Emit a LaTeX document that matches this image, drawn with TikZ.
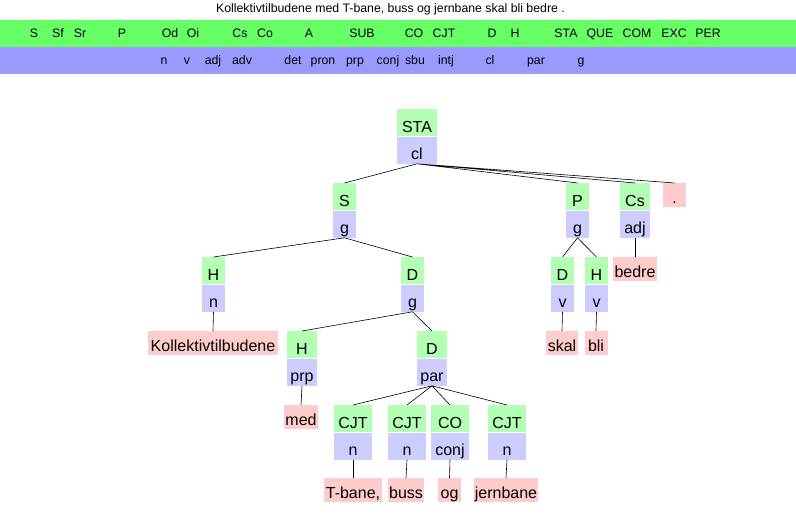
\documentclass[tikz,border=0pt]{standalone}
\usepackage{fontspec}
\setmainfont{Liberation Sans}
\usetikzlibrary{positioning}
\definecolor{bandgreen}{HTML}{66FF66}
\definecolor{bandblue}{HTML}{9999FF}
\definecolor{fngreen}{HTML}{B3FFB3}
\definecolor{catblue}{HTML}{CCCCFF}
\definecolor{wordred}{HTML}{FFCCCC}

\begin{document}
\begin{tikzpicture}[x=1pt, y=-1pt,
	fn/.style={fill=fngreen, anchor=north, minimum height=27pt, minimum width=23pt, inner xsep=1pt, inner ysep=0pt,
		text height=19pt, text depth=0pt, font=\fontsize{16}{18}\selectfont},
	cat/.style={fn, fill=catblue},
	word/.style={fill=wordred, anchor=north, minimum height=24pt, minimum width=23pt, inner xsep=1pt, inner ysep=0pt,
		text height=16pt, text depth=0pt, font=\fontsize{16}{18}\selectfont},
	leg/.style={anchor=base, inner sep=0pt, font=\fontsize{12.3}{14}\selectfont},
	link/.style={draw=black, line width=0.6pt}]

	\useasboundingbox (0,0) rectangle (796,524);

	% legend
	\node[leg] (title) at (390.5,12.5) {Kollektivtilbudene med T-bane, buss og jernbane skal bli bedre .};
	\fill[bandgreen] (0,20) rectangle (796,47);
	\fill[bandblue] (0,47) rectangle (796,74);
	\foreach \lab/\x in {S/34, Sf/58, Sr/80, P/122, Od/170, Oi/193, Cs/240, Co/265, A/309, SUB/362,
		CO/414, CJT/444, D/492, H/515, STA/566, QUE/600, COM/637, EXC/674, PER/708}
		\node[leg] (fl-\lab) at (\x,38) {\lab};
	\foreach \lab/\x in {n/164, v/187, adj/213, adv/242, det/293, pron/323, prp/355, conj/388,
		sbu/415, intj/446, cl/490, par/536, g/581}
		\node[leg] (cl-\lab) at (\x,65) {\lab};

	% tree
	\node[fn, minimum width=40pt] (sta) at (417,109) {STA};
	\node[cat, minimum width=40pt, below=0pt of sta] (sta-cat) {cl};

	\node[fn] (subj) at (344.5,183) {S};
	\node[cat, below=0pt of subj] (subj-cat) {g};
	\node[fn] (pred) at (577.5,183) {P};
	\node[cat, below=0pt of pred] (pred-cat) {g};
	\node[fn, minimum width=30pt] (cs) at (635,183) {Cs};
	\node[cat, minimum width=30pt, below=0pt of cs] (cs-cat) {adj};
	\node[word] (punct) at (674.5,183) {.};

	\node[fn] (subjh) at (213.5,257) {H};
	\node[cat, below=0pt of subjh] (subjh-cat) {n};
	\node[fn] (subjd) at (412.5,257) {D};
	\node[cat, below=0pt of subjd] (subjd-cat) {g};
	\node[fn] (predd) at (562.5,257) {D};
	\node[cat, below=0pt of predd] (predd-cat) {v};
	\node[fn] (predh) at (596.5,257) {H};
	\node[cat, below=0pt of predh] (predh-cat) {v};
	\node[word, minimum width=44pt] (bedre) at (635,257) {bedre};

	\node[word, minimum width=130pt] (kollektiv) at (213,331) {Kollektivtilbudene};
	\node[fn, minimum width=30pt] (prph) at (302,331) {H};
	\node[cat, minimum width=30pt, below=0pt of prph] (prph-cat) {prp};
	\node[fn, minimum width=30pt] (pard) at (432,331) {D};
	\node[cat, minimum width=30pt, below=0pt of pard] (pard-cat) {par};
	\node[word, minimum width=32pt] (skal) at (562,331) {skal};
	\node[word] (bli) at (596,331) {bli};

	\node[word, minimum width=34pt] (med) at (301,405) {med};
	\node[fn, minimum width=38pt] (cjta) at (353,405) {CJT};
	\node[cat, minimum width=38pt, below=0pt of cjta] (cjta-cat) {n};
	\node[fn, minimum width=38pt] (cjtb) at (407,405) {CJT};
	\node[cat, minimum width=38pt, below=0pt of cjtb] (cjtb-cat) {n};
	\node[fn, minimum width=38pt] (co) at (450,405) {CO};
	\node[cat, minimum width=38pt, below=0pt of co] (co-cat) {conj};
	\node[fn, minimum width=38pt] (cjtc) at (507,405) {CJT};
	\node[cat, minimum width=38pt, below=0pt of cjtc] (cjtc-cat) {n};

	\node[word, minimum width=58pt] (tbane) at (353,478) {T-bane,};
	\node[word, minimum width=36pt] (buss) at (406,478) {buss};
	\node[word] (og) at (449.5,478) {og};
	\node[word, minimum width=64pt] (jernbane) at (506,478) {jernbane};

	% links
	\draw[link] (sta-cat.south) -- (subj.north) (sta-cat.south) -- (pred.north)
		(sta-cat.south) -- (cs.north) (sta-cat.south) -- (punct.north);
	\draw[link] (subj-cat.south) -- (subjh.north) (subj-cat.south) -- (subjd.north);
	\draw[link] (subjh-cat.south) -- (kollektiv.north);
	\draw[link] (subjd-cat.south) -- (prph.north) (subjd-cat.south) -- (pard.north);
	\draw[link] (prph-cat.south) -- (med.north);
	\draw[link] (pard-cat.south) -- (cjta.north) (pard-cat.south) -- (cjtb.north)
		(pard-cat.south) -- (co.north) (pard-cat.south) -- (cjtc.north);
	\draw[link] (cjta-cat.south) -- (tbane.north);
	\draw[link] (cjtb-cat.south) -- (buss.north);
	\draw[link] (co-cat.south) -- (og.north);
	\draw[link] (cjtc-cat.south) -- (jernbane.north);
	\draw[link] (pred-cat.south) -- (predd.north) (pred-cat.south) -- (predh.north);
	\draw[link] (predd-cat.south) -- (skal.north);
	\draw[link] (predh-cat.south) -- (bli.north);
	\draw[link] (cs-cat.south) -- (bedre.north);

\end{tikzpicture}
\end{document}
